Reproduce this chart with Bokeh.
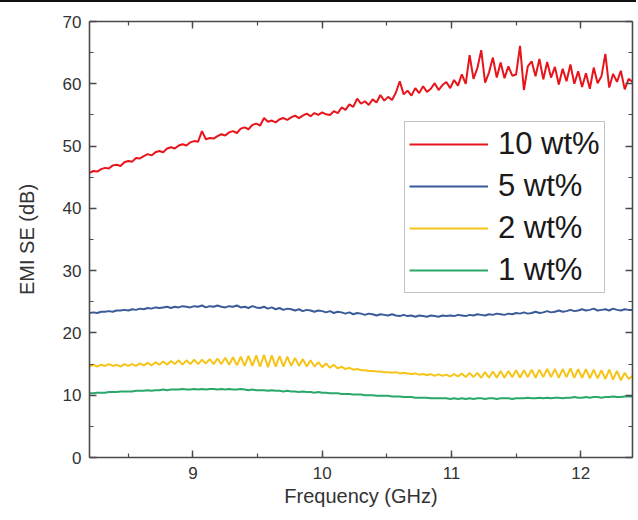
from bokeh.plotting import figure
from bokeh.models import (LinearAxis, SingleIntervalTicker, Legend, LegendItem,
                          ColumnDataSource, Spacer, CustomJSTickFormatter)
from bokeh.layouts import column
from bokeh.embed import file_html
from bokeh.resources import INLINE

# ---------------- data ----------------
freq = [round(8.2 + 0.03 * i, 2) for i in range(141)]  # GHz sweep grid

se_10wt = [
    45.7, 46.0, 45.9, 46.3, 46.5, 46.4, 46.9, 47.0, 46.8, 47.4, 47.6,
    47.5, 48.1, 48.0, 48.4, 48.7, 48.5, 49.0, 49.2, 49.0, 49.6, 49.8, 49.6, 50.1, 50.3, 50.1, 50.6, 50.8,
    50.7, 52.4, 51.1, 51.3, 51.2, 51.6, 51.9, 51.7, 52.2, 52.4, 52.1, 52.8, 53.0, 52.7, 53.4, 53.6,
    53.3, 54.5, 53.9, 54.1, 53.8, 54.3, 54.5, 54.2, 54.6, 54.9, 54.5, 54.9, 55.2, 54.8, 55.3, 55.0, 55.4,
    55.1, 55.0, 55.6, 55.3, 56.2, 55.8, 56.7, 56.3, 57.6, 56.8, 57.2, 56.6, 57.5, 57.0, 58.2, 57.3, 57.9,
    57.4, 58.6, 60.4, 58.3, 58.9, 58.1, 59.3, 58.5, 59.6, 58.7, 59.2, 60.1, 59.0, 59.8, 60.3, 59.3,
    60.6, 59.7, 61.5, 60.0, 64.6, 60.8, 62.5, 65.4, 60.2, 61.8, 64.2, 61.0, 63.4, 60.9, 62.8, 61.3, 61.5,
    66.1, 59.0, 62.8, 63.6, 61.2, 64.0, 60.7, 63.5, 61.0, 62.7, 59.9, 62.4, 60.4, 63.1, 60.0, 62.0, 59.5,
    61.7, 59.2, 62.6, 60.1, 61.2, 64.8, 59.4, 61.6, 60.3, 62.1, 59.1, 60.8, 60.3,
]

se_5wt = [
    23.2, 23.3, 23.2, 23.4, 23.4, 23.5, 23.4, 23.6, 23.6, 23.7, 23.6,
    23.8, 23.7, 23.9, 23.8, 24.0, 23.9, 24.1, 24.0, 24.1, 24.2, 24.0, 24.2, 24.1, 24.3, 24.2, 24.1, 24.3,
    24.2, 24.4, 24.1, 24.3, 24.2, 24.4, 24.2, 24.1, 24.3, 24.2, 24.4, 24.1, 24.2, 24.0, 24.3, 24.1,
    24.0, 24.2, 23.9, 24.1, 23.8, 24.0, 23.7, 23.9, 23.8, 23.6, 23.8, 23.5, 23.7, 23.6, 23.4, 23.6, 23.5,
    23.3, 23.5, 23.2, 23.4, 23.3, 23.1, 23.3, 23.0, 23.2, 23.1, 22.9, 23.1, 23.0, 22.8, 23.0, 22.9, 22.8,
    23.0, 22.8, 22.7, 22.9, 22.7, 22.8, 22.6, 22.8, 22.7, 22.6, 22.8, 22.7, 22.6, 22.8, 22.7, 22.8,
    22.7, 22.9, 22.8, 22.7, 22.9, 22.8, 23.0, 22.9, 22.8, 23.0, 22.9, 23.1, 23.0, 22.9, 23.1, 23.0, 23.2,
    23.1, 23.3, 23.1, 23.2, 23.4, 23.2, 23.3, 23.5, 23.3, 23.4, 23.6, 23.4, 23.5, 23.7, 23.5, 23.6, 23.8,
    23.6, 23.7, 23.9, 23.6, 23.7, 23.8, 23.6, 23.9, 23.7, 23.6, 23.8, 23.7, 23.7,
]

se_2wt = [
    14.6, 14.9, 14.6, 14.9, 14.7, 15.0, 14.7, 14.9, 14.6, 15.0, 14.7,
    15.0, 14.7, 15.1, 14.8, 15.2, 14.8, 15.3, 14.9, 15.4, 14.9, 15.5, 15.0, 15.6, 14.9, 15.6, 15.0, 15.7,
    15.0, 15.7, 15.1, 15.8, 15.0, 15.9, 15.0, 16.0, 14.9, 16.1, 14.8, 16.2, 14.7, 16.3, 14.7, 16.4,
    14.6, 16.5, 14.5, 16.4, 14.6, 16.3, 14.6, 16.2, 14.7, 16.0, 14.7, 15.8, 14.6, 15.6, 14.6, 15.3, 14.5,
    15.1, 14.4, 14.9, 14.3, 14.6, 14.2, 14.4, 14.1, 14.2, 14.0, 14.0, 13.9, 13.9, 13.8, 13.8, 13.7, 13.7,
    13.6, 13.7, 13.5, 13.6, 13.5, 13.4, 13.5, 13.3, 13.4, 13.2, 13.4, 13.1, 13.4, 13.1, 13.3, 13.0,
    13.4, 13.0, 13.5, 12.9, 13.6, 12.9, 13.6, 12.8, 13.7, 12.8, 13.8, 12.8, 13.9, 12.8, 13.9, 12.9, 14.0,
    12.8, 14.0, 12.9, 14.1, 12.8, 14.1, 12.9, 14.2, 12.9, 14.2, 12.8, 14.2, 12.9, 14.3, 12.8, 14.2, 12.8,
    14.2, 12.7, 14.1, 12.7, 14.0, 12.6, 14.1, 12.5, 13.9, 12.4, 13.6, 12.6, 13.1,
]

se_1wt = [
    10.3, 10.3, 10.4, 10.4, 10.4, 10.5, 10.5, 10.5, 10.6, 10.6, 10.6,
    10.6, 10.7, 10.7, 10.7, 10.8, 10.7, 10.8, 10.8, 10.9, 10.8, 10.9, 10.9, 10.9, 11.0, 10.9, 10.9, 11.0,
    10.9, 11.0, 10.9, 11.0, 11.0, 10.9, 11.0, 10.9, 11.0, 10.9, 10.9, 11.0, 10.9, 10.8, 10.9, 10.8,
    10.8, 10.8, 10.7, 10.8, 10.7, 10.7, 10.6, 10.7, 10.6, 10.6, 10.5, 10.6, 10.5, 10.5, 10.4, 10.5, 10.4,
    10.4, 10.3, 10.3, 10.3, 10.2, 10.2, 10.2, 10.1, 10.1, 10.1, 10.0, 10.0, 10.0, 9.9, 9.9, 9.9, 9.9,
    9.8, 9.8, 9.8, 9.7, 9.7, 9.7, 9.6, 9.6, 9.6, 9.6, 9.5, 9.5, 9.5, 9.5, 9.5, 9.4,
    9.5, 9.4, 9.5, 9.4, 9.5, 9.4, 9.5, 9.5, 9.4, 9.5, 9.5, 9.4, 9.5, 9.5, 9.5, 9.4, 9.5,
    9.5, 9.5, 9.6, 9.5, 9.5, 9.6, 9.5, 9.6, 9.5, 9.6, 9.6, 9.5, 9.6, 9.6, 9.7, 9.6, 9.6,
    9.7, 9.6, 9.7, 9.7, 9.6, 9.7, 9.7, 9.8, 9.7, 9.7, 9.8, 9.8, 9.8,
]

labels = ["10 wt%", "5 wt%", "2 wt%", "1 wt%"]
colors = ["#e8141c", "#3a5a98", "#f6c419", "#2aa86c"]
series = [se_10wt, se_5wt, se_2wt, se_1wt]

x_title = "Frequency (GHz)"
y_title = "EMI SE (dB)"

FONT = "Liberation Sans"

# ---------------- figure ----------------
p = figure(width=636, height=516, x_range=(8.2, 12.4), y_range=(0, 70),
           output_backend="svg", toolbar_location=None,
           min_border_left=89, min_border_right=4, min_border_top=19,
           min_border_bottom=61)
p.xgrid.visible = False
p.ygrid.visible = False
p.outline_line_color = None
p.background_fill_color = "white"
p.border_fill_color = "white"

renderers = []
for vals, col in zip(series, colors):
    n = min(len(freq), len(vals))
    src = ColumnDataSource(dict(x=freq[:n], y=vals[:n]))
    r = p.line("x", "y", source=src, line_color=col, line_width=2)
    renderers.append(r)

AX_COLOR = "#4a4a4a"


def style_axis(ax, labels_on):
    ax.axis_line_color = AX_COLOR
    ax.axis_line_width = 1.6
    ax.major_tick_line_color = AX_COLOR
    ax.minor_tick_line_color = AX_COLOR
    ax.major_tick_line_width = 1.4
    ax.minor_tick_line_width = 1.2
    ax.major_tick_in = 7
    ax.major_tick_out = 0
    ax.minor_tick_in = 4
    ax.minor_tick_out = 0
    if labels_on:
        ax.major_label_text_font = FONT
        ax.major_label_text_font_size = "17px"
        ax.major_label_text_color = "#333333"
        ax.axis_label_text_font = FONT
        ax.axis_label_text_font_size = "20px"
        ax.axis_label_text_font_style = "normal"
        ax.axis_label_text_color = "#333333"
    else:
        ax.formatter = CustomJSTickFormatter(code="return ''")
        ax.major_label_standoff = 0


xa = p.xaxis[0]
ya = p.yaxis[0]
xa.ticker = SingleIntervalTicker(interval=1, num_minor_ticks=2)
ya.ticker = SingleIntervalTicker(interval=10, num_minor_ticks=2)
xa.axis_label = x_title
ya.axis_label = y_title
style_axis(xa, True)
style_axis(ya, True)
xa.major_label_standoff = 9
xa.axis_label_standoff = 3
ya.major_label_standoff = 8
ya.axis_label_standoff = 22

top = LinearAxis(ticker=SingleIntervalTicker(interval=1, num_minor_ticks=2))
right = LinearAxis(ticker=SingleIntervalTicker(interval=10, num_minor_ticks=2))
style_axis(top, False)
style_axis(right, False)
p.add_layout(top, "above")
p.add_layout(right, "right")

legend = Legend(items=[LegendItem(label=lab, renderers=[r]) for lab, r in zip(labels, renderers)],
                location=(315, 164))
legend.label_text_font = FONT
legend.label_text_font_size = "31px"
legend.label_text_color = "#1a1a1a"
legend.glyph_width = 79
legend.glyph_height = 20
legend.label_standoff = 10
legend.padding = 4
legend.spacing = 6
legend.margin = 0
legend.border_line_color = "#888888"
legend.border_line_width = 1.5
legend.background_fill_color = "white"
legend.background_fill_alpha = 1.0
p.add_layout(legend)

bar = Spacer(width=636, height=2, styles={"background-color": "#111111"})
layout = column(bar, p, spacing=0)

open("out.html", "w").write(file_html(layout, INLINE))
